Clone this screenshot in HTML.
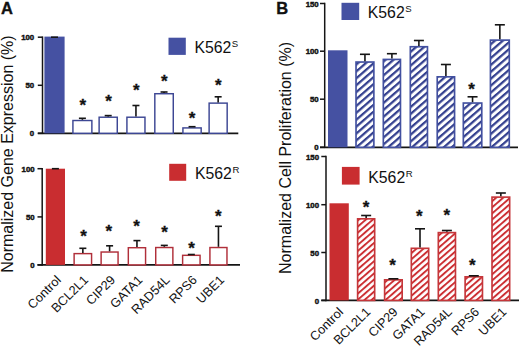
<!DOCTYPE html>
<html><head><meta charset="utf-8">
<style>
html,body{margin:0;padding:0;background:#fff;}
svg{display:block;}
text{font-family:"Liberation Sans",sans-serif;fill:#111;}
.tk{font-size:7.8px;font-weight:bold;text-anchor:end;stroke:#111;stroke-width:0.45px;}
.ylab{font-size:16.0px;text-anchor:middle;}
.lbl{font-size:12.7px;text-anchor:end;}
.leg{font-size:15.8px;}
.sup{font-size:9.6px;}
.pl{font-size:16.5px;font-weight:bold;stroke:#111;stroke-width:0.35px;}
.ast{font-size:17px;font-weight:bold;text-anchor:middle;stroke:#111;stroke-width:0.3px;}
</style></head><body>
<svg width="520" height="347" viewBox="0 0 520 347">
<defs>
<pattern id="hb" patternUnits="userSpaceOnUse" width="5.21" height="5.21" patternTransform="rotate(-41)">
<rect width="5.21" height="5.21" fill="#fff"/><rect width="5.21" height="2.24" fill="#34408f"/>
</pattern>
<pattern id="hr" patternUnits="userSpaceOnUse" width="4.6" height="4.6" patternTransform="rotate(-41)">
<rect width="4.6" height="4.6" fill="#fff"/><rect width="4.6" height="1.93" fill="#cc2f33"/>
</pattern>
</defs>
<rect width="520" height="347" fill="#fff"/>

<text x="0.9" y="13.9" class="pl" >A</text>
<text x="276.3" y="14.0" class="pl" >B</text>
<text class="ylab" transform="translate(13.0,154.1) rotate(-90)">Normalized Gene Expression (%)</text>
<text class="ylab" transform="translate(290.6,157.95) rotate(-90)">Normalized Cell Proliferation (%)</text>
<line x1="42.5" y1="36.45" x2="42.5" y2="134.05" stroke="#151515" stroke-width="1.5"/>
<line x1="37.8" y1="133.3" x2="238.3" y2="133.3" stroke="#151515" stroke-width="1.7"/>
<line x1="37.8" y1="37.2" x2="42.5" y2="37.2" stroke="#151515" stroke-width="1.5"/>
<text x="34.2" y="40.3" class="tk" >100</text>
<line x1="37.8" y1="85.3" x2="42.5" y2="85.3" stroke="#151515" stroke-width="1.5"/>
<text x="34.2" y="88.4" class="tk" >50</text>
<line x1="37.8" y1="133.3" x2="42.5" y2="133.3" stroke="#151515" stroke-width="1.5"/>
<text x="34.2" y="136.4" class="tk" >0</text>
<rect x="44.4" y="36.6" width="20.2" height="96.7" fill="#4551a2"/>
<line x1="51.0" y1="37.2" x2="58.0" y2="37.2" stroke="#151515" stroke-width="1.6"/>
<rect x="72.92" y="120.52" width="18.95" height="12.78" fill="#fff" stroke="#3d4794" stroke-width="1.45"/>
<line x1="82.4" y1="119.8" x2="82.4" y2="118.3" stroke="#151515" stroke-width="1.6"/>
<line x1="78.9" y1="118.3" x2="85.9" y2="118.3" stroke="#151515" stroke-width="1.6"/>
<text x="82.9" y="111.2" class="ast" >*</text>
<rect x="99.12" y="117.22" width="18.15" height="16.08" fill="#fff" stroke="#3d4794" stroke-width="1.45"/>
<line x1="108.2" y1="116.5" x2="108.2" y2="115.6" stroke="#151515" stroke-width="1.6"/>
<line x1="104.7" y1="115.6" x2="111.7" y2="115.6" stroke="#151515" stroke-width="1.6"/>
<text x="108.5" y="107.4" class="ast" >*</text>
<rect x="126.92" y="117.22" width="18.05" height="16.08" fill="#fff" stroke="#3d4794" stroke-width="1.45"/>
<line x1="135.95" y1="116.5" x2="135.95" y2="105.5" stroke="#151515" stroke-width="1.6"/>
<line x1="132.45" y1="105.5" x2="139.45" y2="105.5" stroke="#151515" stroke-width="1.6"/>
<text x="136.2" y="95.7" class="ast" >*</text>
<rect x="154.82" y="93.72" width="18.45" height="39.58" fill="#fff" stroke="#3d4794" stroke-width="1.45"/>
<line x1="164.05" y1="93.0" x2="164.05" y2="92.0" stroke="#151515" stroke-width="1.6"/>
<line x1="160.55" y1="92.0" x2="167.55" y2="92.0" stroke="#151515" stroke-width="1.6"/>
<text x="164.3" y="86.6" class="ast" >*</text>
<rect x="182.92" y="127.92" width="18.25" height="5.38" fill="#fff" stroke="#3d4794" stroke-width="1.45"/>
<line x1="188.55" y1="126.7" x2="195.55" y2="126.7" stroke="#151515" stroke-width="1.6"/>
<text x="192.1" y="123.7" class="ast" >*</text>
<rect x="209.12" y="103.12" width="18.05" height="30.18" fill="#fff" stroke="#3d4794" stroke-width="1.45"/>
<line x1="218.15" y1="102.4" x2="218.15" y2="96.8" stroke="#151515" stroke-width="1.6"/>
<line x1="214.65" y1="96.8" x2="221.65" y2="96.8" stroke="#151515" stroke-width="1.6"/>
<text x="218.4" y="91.2" class="ast" >*</text>
<rect x="168.5" y="37.7" width="17.3" height="17.2" fill="#4551a2"/>
<text class="leg" x="194.4" y="52.6">K562<tspan class="sup" dx="0.5" dy="-6.0">S</tspan></text>
<line x1="42.2" y1="167.95" x2="42.2" y2="265.65" stroke="#151515" stroke-width="1.5"/>
<line x1="37.5" y1="264.9" x2="240" y2="264.9" stroke="#151515" stroke-width="1.7"/>
<line x1="37.5" y1="168.7" x2="42.2" y2="168.7" stroke="#151515" stroke-width="1.5"/>
<text x="34.6" y="171.8" class="tk" >100</text>
<line x1="37.5" y1="216.9" x2="42.2" y2="216.9" stroke="#151515" stroke-width="1.5"/>
<text x="34.6" y="220.0" class="tk" >50</text>
<line x1="37.5" y1="264.9" x2="42.2" y2="264.9" stroke="#151515" stroke-width="1.5"/>
<text x="34.6" y="268.0" class="tk" >0</text>
<rect x="45.8" y="168.7" width="19.2" height="96.2" fill="#c92d30"/>
<line x1="51.9" y1="168.7" x2="58.9" y2="168.7" stroke="#151515" stroke-width="1.6"/>
<rect x="74.12" y="253.62" width="17.45" height="11.27" fill="#fff" stroke="#b02f3a" stroke-width="1.45"/>
<line x1="82.85" y1="252.9" x2="82.85" y2="248.3" stroke="#151515" stroke-width="1.6"/>
<line x1="79.35" y1="248.3" x2="86.35" y2="248.3" stroke="#151515" stroke-width="1.6"/>
<text x="83.6" y="242.2" class="ast" >*</text>
<rect x="101.12" y="252.03" width="16.95" height="12.87" fill="#fff" stroke="#b02f3a" stroke-width="1.45"/>
<line x1="109.6" y1="251.3" x2="109.6" y2="245.8" stroke="#151515" stroke-width="1.6"/>
<line x1="106.1" y1="245.8" x2="113.1" y2="245.8" stroke="#151515" stroke-width="1.6"/>
<text x="108.8" y="237.1" class="ast" >*</text>
<rect x="128.32" y="247.72" width="17.25" height="17.17" fill="#fff" stroke="#b02f3a" stroke-width="1.45"/>
<line x1="136.95" y1="247.0" x2="136.95" y2="240.6" stroke="#151515" stroke-width="1.6"/>
<line x1="133.45" y1="240.6" x2="140.45" y2="240.6" stroke="#151515" stroke-width="1.6"/>
<text x="136.6" y="232.2" class="ast" >*</text>
<rect x="155.72" y="247.53" width="17.15" height="17.37" fill="#fff" stroke="#b02f3a" stroke-width="1.45"/>
<line x1="164.3" y1="246.8" x2="164.3" y2="245.4" stroke="#151515" stroke-width="1.6"/>
<line x1="160.8" y1="245.4" x2="167.8" y2="245.4" stroke="#151515" stroke-width="1.6"/>
<text x="164.5" y="238.2" class="ast" >*</text>
<rect x="182.62" y="255.32" width="17.45" height="9.57" fill="#fff" stroke="#b02f3a" stroke-width="1.45"/>
<line x1="187.85" y1="254.5" x2="194.85" y2="254.5" stroke="#151515" stroke-width="1.6"/>
<text x="191.5" y="254.2" class="ast" >*</text>
<rect x="209.92" y="247.53" width="17.05" height="17.37" fill="#fff" stroke="#b02f3a" stroke-width="1.45"/>
<line x1="218.45" y1="246.8" x2="218.45" y2="226.3" stroke="#151515" stroke-width="1.6"/>
<line x1="214.95" y1="226.3" x2="221.95" y2="226.3" stroke="#151515" stroke-width="1.6"/>
<text x="218.4" y="222.4" class="ast" >*</text>
<rect x="169.2" y="163.8" width="17" height="17" fill="#c92d30"/>
<text class="leg" x="195" y="179">K562<tspan class="sup" dx="0.5" dy="-6.0">R</tspan></text>
<line x1="324.7" y1="2.75" x2="324.7" y2="148.05" stroke="#151515" stroke-width="1.5"/>
<line x1="320.0" y1="147.3" x2="518" y2="147.3" stroke="#151515" stroke-width="1.7"/>
<line x1="320.0" y1="3.5" x2="324.7" y2="3.5" stroke="#151515" stroke-width="1.5"/>
<text x="318.7" y="6.6" class="tk" >150</text>
<line x1="320.0" y1="51.2" x2="324.7" y2="51.2" stroke="#151515" stroke-width="1.5"/>
<text x="318.7" y="54.3" class="tk" >100</text>
<line x1="320.0" y1="99.2" x2="324.7" y2="99.2" stroke="#151515" stroke-width="1.5"/>
<text x="318.7" y="102.3" class="tk" >50</text>
<line x1="320.0" y1="147.3" x2="324.7" y2="147.3" stroke="#151515" stroke-width="1.5"/>
<text x="318.7" y="150.4" class="tk" >0</text>
<rect x="328.0" y="50.3" width="19.5" height="97" fill="#4551a2"/>
<rect x="356.02" y="62.03" width="17.85" height="85.28" fill="url(#hb)" stroke="#4250a0" stroke-width="1.65"/>
<line x1="364.95" y1="61.2" x2="364.95" y2="54.3" stroke="#151515" stroke-width="1.6"/>
<line x1="359.95" y1="54.3" x2="369.95" y2="54.3" stroke="#151515" stroke-width="1.6"/>
<rect x="383.32" y="59.43" width="17.15" height="87.88" fill="url(#hb)" stroke="#4250a0" stroke-width="1.65"/>
<line x1="391.9" y1="58.6" x2="391.9" y2="53.7" stroke="#151515" stroke-width="1.6"/>
<line x1="386.9" y1="53.7" x2="396.9" y2="53.7" stroke="#151515" stroke-width="1.6"/>
<rect x="410.32" y="46.73" width="17.15" height="100.58" fill="url(#hb)" stroke="#4250a0" stroke-width="1.65"/>
<line x1="418.9" y1="45.9" x2="418.9" y2="40.5" stroke="#151515" stroke-width="1.6"/>
<line x1="413.9" y1="40.5" x2="423.9" y2="40.5" stroke="#151515" stroke-width="1.6"/>
<rect x="437.22" y="76.83" width="17.35" height="70.48" fill="url(#hb)" stroke="#4250a0" stroke-width="1.65"/>
<line x1="445.9" y1="76.0" x2="445.9" y2="64.5" stroke="#151515" stroke-width="1.6"/>
<line x1="440.9" y1="64.5" x2="450.9" y2="64.5" stroke="#151515" stroke-width="1.6"/>
<rect x="463.32" y="103.03" width="18.45" height="44.28" fill="url(#hb)" stroke="#4250a0" stroke-width="1.65"/>
<line x1="472.55" y1="102.2" x2="472.55" y2="96.8" stroke="#151515" stroke-width="1.6"/>
<line x1="467.55" y1="96.8" x2="477.55" y2="96.8" stroke="#151515" stroke-width="1.6"/>
<text x="471.6" y="95.4" class="ast" >*</text>
<rect x="490.43" y="40.12" width="18.85" height="107.18" fill="url(#hb)" stroke="#4250a0" stroke-width="1.65"/>
<line x1="499.85" y1="39.3" x2="499.85" y2="24.8" stroke="#151515" stroke-width="1.6"/>
<line x1="494.85" y1="24.8" x2="504.85" y2="24.8" stroke="#151515" stroke-width="1.6"/>
<rect x="341.5" y="2.8" width="17.7" height="17.2" fill="#4551a2"/>
<text class="leg" x="367.8" y="18.4">K562<tspan class="sup" dx="0.5" dy="-6.0">S</tspan></text>
<line x1="326.0" y1="155.75" x2="326.0" y2="301.15" stroke="#151515" stroke-width="1.5"/>
<line x1="321.3" y1="300.4" x2="519" y2="300.4" stroke="#151515" stroke-width="1.7"/>
<line x1="321.3" y1="156.5" x2="326.0" y2="156.5" stroke="#151515" stroke-width="1.5"/>
<text x="319.0" y="159.6" class="tk" >150</text>
<line x1="321.3" y1="204.7" x2="326.0" y2="204.7" stroke="#151515" stroke-width="1.5"/>
<text x="319.0" y="207.8" class="tk" >100</text>
<line x1="321.3" y1="252.5" x2="326.0" y2="252.5" stroke="#151515" stroke-width="1.5"/>
<text x="319.0" y="255.6" class="tk" >50</text>
<line x1="321.3" y1="300.4" x2="326.0" y2="300.4" stroke="#151515" stroke-width="1.5"/>
<text x="319.0" y="303.5" class="tk" >0</text>
<rect x="329.5" y="203.3" width="19.3" height="97.1" fill="#c92d30"/>
<rect x="357.62" y="218.82" width="17.05" height="81.57" fill="url(#hr)" stroke="#c5363a" stroke-width="1.65"/>
<line x1="366.15" y1="218.0" x2="366.15" y2="215.5" stroke="#151515" stroke-width="1.6"/>
<line x1="361.15" y1="215.5" x2="371.15" y2="215.5" stroke="#151515" stroke-width="1.6"/>
<text x="366.0" y="213.2" class="ast" >*</text>
<rect x="384.62" y="279.82" width="17.55" height="20.57" fill="url(#hr)" stroke="#c5363a" stroke-width="1.65"/>
<line x1="388.4" y1="278.8" x2="398.4" y2="278.8" stroke="#151515" stroke-width="1.6"/>
<text x="392.6" y="270.9" class="ast" >*</text>
<rect x="411.32" y="248.32" width="17.35" height="52.07" fill="url(#hr)" stroke="#c5363a" stroke-width="1.65"/>
<line x1="420.0" y1="247.5" x2="420.0" y2="228.8" stroke="#151515" stroke-width="1.6"/>
<line x1="415.0" y1="228.8" x2="425.0" y2="228.8" stroke="#151515" stroke-width="1.6"/>
<text x="419.3" y="222.4" class="ast" >*</text>
<rect x="438.32" y="232.62" width="17.15" height="67.77" fill="url(#hr)" stroke="#c5363a" stroke-width="1.65"/>
<line x1="446.9" y1="231.8" x2="446.9" y2="230.5" stroke="#151515" stroke-width="1.6"/>
<line x1="441.9" y1="230.5" x2="451.9" y2="230.5" stroke="#151515" stroke-width="1.6"/>
<text x="446.8" y="221.2" class="ast" >*</text>
<rect x="465.12" y="276.82" width="17.35" height="23.57" fill="url(#hr)" stroke="#c5363a" stroke-width="1.65"/>
<line x1="468.8" y1="275.8" x2="478.8" y2="275.8" stroke="#151515" stroke-width="1.6"/>
<text x="472.4" y="270.9" class="ast" >*</text>
<rect x="492.02" y="197.12" width="17.65" height="103.27" fill="url(#hr)" stroke="#c5363a" stroke-width="1.65"/>
<line x1="500.85" y1="196.3" x2="500.85" y2="193.0" stroke="#151515" stroke-width="1.6"/>
<line x1="495.85" y1="193.0" x2="505.85" y2="193.0" stroke="#151515" stroke-width="1.6"/>
<rect x="341.9" y="166.9" width="17.7" height="17.7" fill="#c92d30"/>
<text class="leg" x="368.3" y="183.3">K562<tspan class="sup" dx="0.5" dy="-6.0">R</tspan></text>
<text class="lbl" transform="translate(61.70,280.8) rotate(-45)">Control</text>
<text class="lbl" transform="translate(88.90,280.8) rotate(-45)">BCL2L1</text>
<text class="lbl" transform="translate(116.10,280.8) rotate(-45)">CIP29</text>
<text class="lbl" transform="translate(143.30,280.8) rotate(-45)">GATA1</text>
<text class="lbl" transform="translate(170.50,280.8) rotate(-45)">RAD54L</text>
<text class="lbl" transform="translate(197.70,280.8) rotate(-45)">RPS6</text>
<text class="lbl" transform="translate(224.90,280.8) rotate(-45)">UBE1</text>
<text class="lbl" transform="translate(344.00,312.7) rotate(-45)">Control</text>
<text class="lbl" transform="translate(371.20,312.7) rotate(-45)">BCL2L1</text>
<text class="lbl" transform="translate(398.40,312.7) rotate(-45)">CIP29</text>
<text class="lbl" transform="translate(425.60,312.7) rotate(-45)">GATA1</text>
<text class="lbl" transform="translate(452.80,312.7) rotate(-45)">RAD54L</text>
<text class="lbl" transform="translate(480.00,312.7) rotate(-45)">RPS6</text>
<text class="lbl" transform="translate(507.20,312.7) rotate(-45)">UBE1</text>
</svg></body></html>
